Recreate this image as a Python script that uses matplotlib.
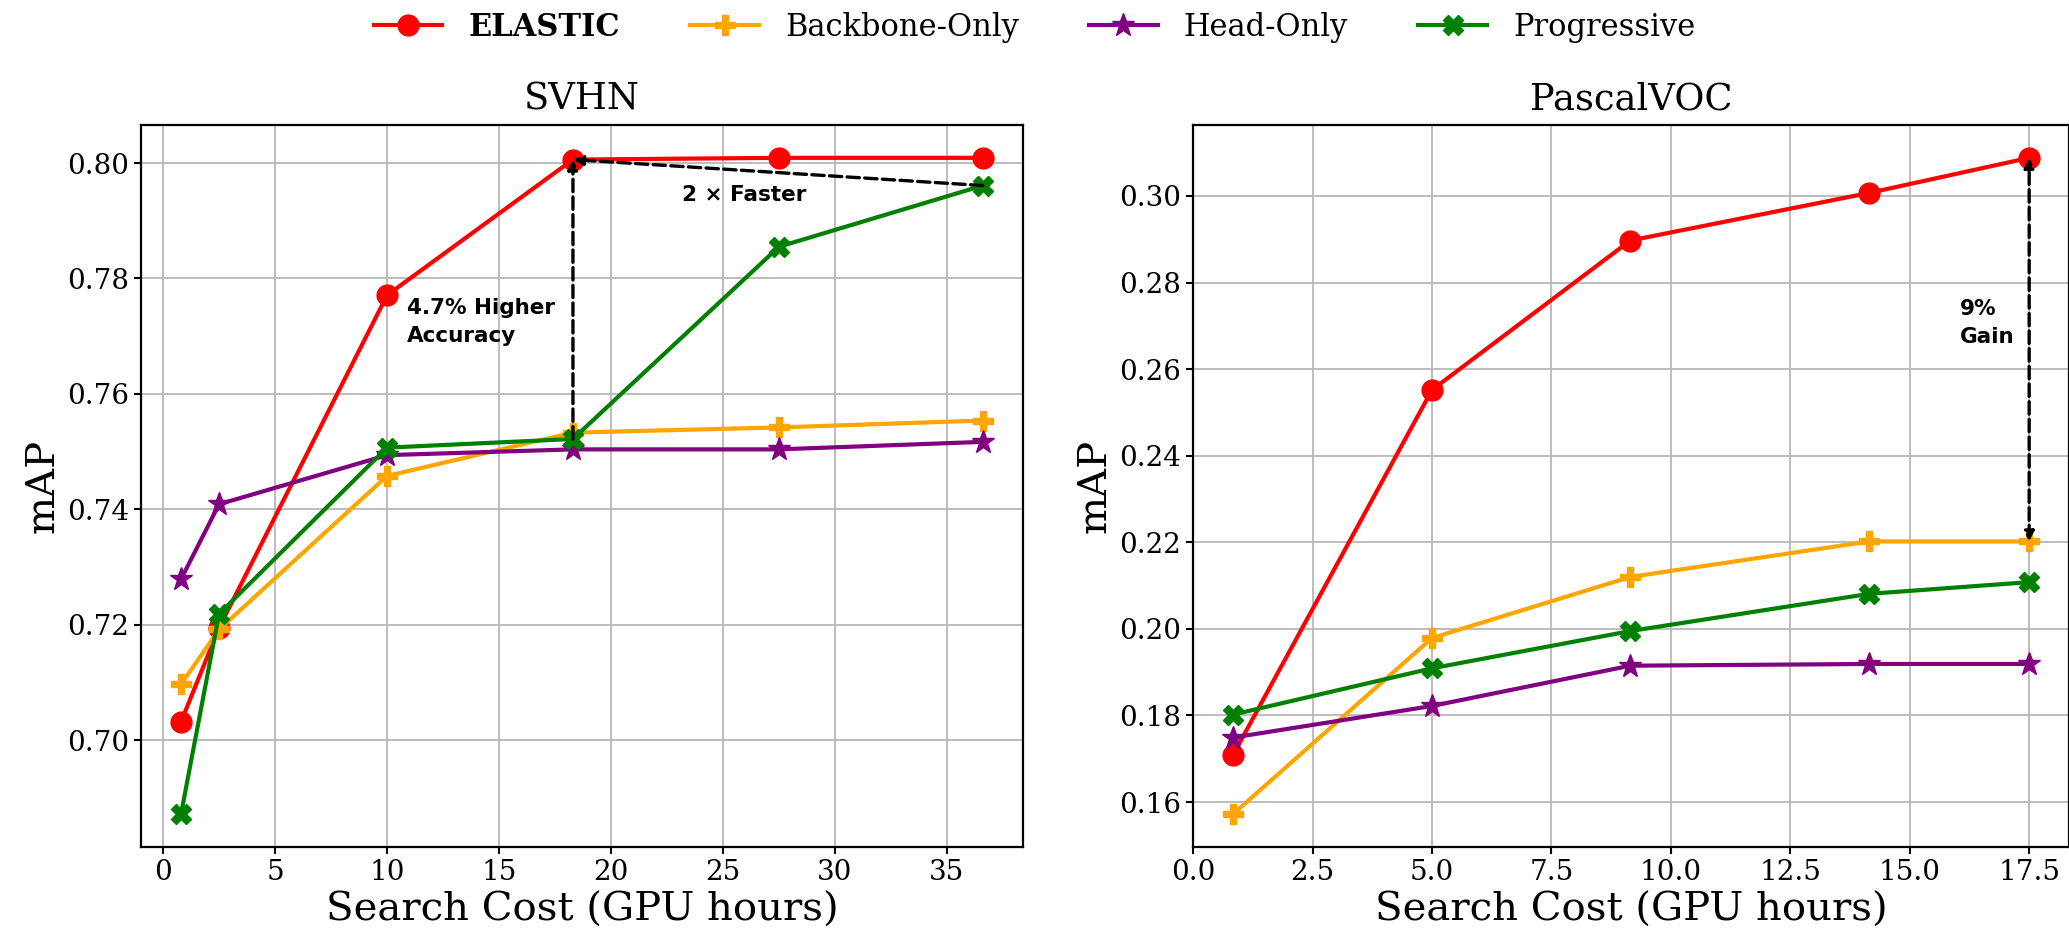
import numpy as np
import matplotlib
matplotlib.use("Agg")
import matplotlib.pyplot as plt

plt.rcParams['font.family'] = 'DejaVu Serif'

# SVHN
svhn_x = [0.8, 2.5, 10, 18.3, 27.5, 36.6]
svhn_elastic = [0.7032, 0.7195, 0.7771, 0.8006, 0.8009, 0.8009]
svhn_backbone = [0.7097, 0.7192, 0.7458, 0.7533, 0.7542, 0.7554]
svhn_head = [0.7279, 0.7409, 0.7494, 0.7504, 0.7504, 0.7517]
svhn_prog = [0.6872, 0.7219, 0.7507, 0.7522, 0.7855, 0.7961]

# PascalVOC
voc_x = [0.83, 5.0, 9.15, 14.15, 17.5]
voc_elastic = [0.1708, 0.2552, 0.2897, 0.3007, 0.3088]
voc_backbone = [0.1572, 0.1979, 0.2120, 0.2202, 0.2202]
voc_head = [0.1749, 0.1822, 0.1915, 0.1919, 0.1919]
voc_prog = [0.1802, 0.1909, 0.1995, 0.2081, 0.2108]

labels = ['ELASTIC', 'Backbone-Only', 'Head-Only', 'Progressive']
colors = ['red', 'orange', 'purple', 'green']
markers = ['o', 'P', '*', 'X']
msizes = [15, 15, 17, 15]

fig = plt.figure(figsize=(20.69, 9.40), dpi=100)
ax1 = fig.add_axes([0.0681, 0.0989, 0.4263, 0.7681])
ax2 = fig.add_axes([0.5766, 0.0989, 0.4234, 0.7681])

def draw(ax, x, series, title):
    lines = []
    for s, lab, c, m, ms in zip(series, labels, colors, markers, msizes):
        l, = ax.plot(x, s, color=c, marker=m, lw=3, ms=ms, label=lab)
        lines.append(l)
    ax.set_title(title, fontsize=26.5, pad=11)
    ax.set_xlabel('Search Cost (GPU hours)', fontsize=29)
    ax.set_ylabel('mAP', fontsize=29)
    ax.grid(True, color='#b8b8b8', lw=1.3)
    ax.tick_params(labelsize=20, length=5, width=1.5)
    for sp in ax.spines.values():
        sp.set_linewidth(1.6)
    return lines

lines = draw(ax1, svhn_x, [svhn_elastic, svhn_backbone, svhn_head, svhn_prog], 'SVHN')
draw(ax2, voc_x, [voc_elastic, voc_backbone, voc_head, voc_prog], 'PascalVOC')

arrow = dict(arrowstyle='-|>', linestyle='--', lw=2.4, color='black',
             shrinkA=0, shrinkB=0, mutation_scale=14)
ax1.annotate('', xy=(svhn_x[3], svhn_elastic[3]), xytext=(svhn_x[3], svhn_prog[3]),
             arrowprops=arrow)
ax1.annotate('', xy=(svhn_x[3], svhn_elastic[3]), xytext=(svhn_x[5], svhn_prog[5]),
             arrowprops=arrow)
ax1.text(10.9, 0.7724, '4.7% Higher\nAccuracy', fontsize=15.5, fontweight='bold',
         family='DejaVu Sans', ha='left', va='center', linespacing=1.5)
ax1.text(23.15, 0.7944, '2 × Faster', fontsize=15.5, fontweight='bold',
         family='DejaVu Sans', ha='left', va='center')

arrow2 = dict(arrow, arrowstyle='<|-|>')
ax2.annotate('', xy=(voc_x[4], voc_elastic[4]), xytext=(voc_x[4], voc_backbone[4]),
             arrowprops=arrow2)
ax2.text(16.04, 0.2707, '9%\nGain', fontsize=15.5, fontweight='bold',
         family='DejaVu Sans', ha='left', va='center', linespacing=1.5)

leg = fig.legend(handles=lines, loc='center', bbox_to_anchor=(0.5, 0.971), ncol=4,
                 frameon=False, fontsize=22, handlelength=2.25, handletextpad=0.85,
                 columnspacing=2.3, borderpad=0)
leg.get_texts()[0].set_fontweight('bold')

fig.savefig('out.png', dpi=100)
